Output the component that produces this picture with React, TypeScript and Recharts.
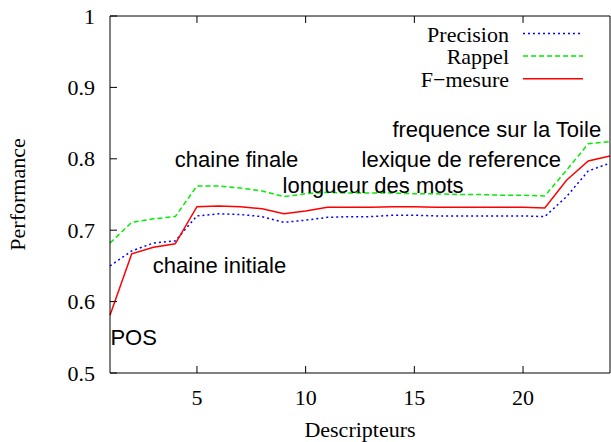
import { LineChart, Line, XAxis, YAxis, Legend, ReferenceDot } from 'recharts';

const descripteurs = [1, 2, 3, 4, 5, 6, 7, 8, 9, 10, 11, 12, 13, 14, 15, 16, 17, 18, 19, 20, 21, 22, 23, 24];
const precision = [0.650, 0.671, 0.682, 0.685, 0.720, 0.723, 0.722, 0.719, 0.711, 0.714, 0.718, 0.719, 0.719, 0.721, 0.721, 0.720, 0.720, 0.720, 0.720, 0.720, 0.719, 0.747, 0.783, 0.794];
const rappel = [0.682, 0.711, 0.716, 0.719, 0.762, 0.762, 0.759, 0.755, 0.747, 0.751, 0.753, 0.752, 0.752, 0.752, 0.751, 0.751, 0.750, 0.750, 0.749, 0.749, 0.748, 0.784, 0.821, 0.824];
const fmesure = [0.581, 0.667, 0.676, 0.681, 0.733, 0.734, 0.733, 0.730, 0.723, 0.727, 0.732, 0.732, 0.732, 0.733, 0.733, 0.732, 0.732, 0.732, 0.732, 0.732, 0.731, 0.770, 0.797, 0.804];

const xTicks = [5, 10, 15, 20];
const yTicks = [0.5, 0.6, 0.7, 0.8, 0.9, 1];

// annotations, anchored at their baseline-left in data coordinates
const noteLabels = ['POS', 'chaine initiale', 'chaine finale', 'longueur des mots', 'lexique de reference', 'frequence sur la Toile'];
const noteX = [1.02, 2.97, 3.98, 8.94, 12.57, 13.99];
const noteY = [0.539, 0.640, 0.7885, 0.752, 0.789, 0.831];

const SERIF = '"Liberation Serif", "Times New Roman", serif';
const SANS = '"Liberation Sans", Arial, sans-serif';
const FS = 22;
const TICK = 7;

const data = descripteurs.map((d, i) => ({
  d,
  precision: precision[i],
  rappel: rappel[i],
  fmesure: fmesure[i],
}));

const series = [
  { key: 'precision', name: 'Precision', color: '#0000ff', dash: '2 3' },
  { key: 'rappel', name: 'Rappel', color: '#00ee00', dash: '5 3' },
  { key: 'fmesure', name: 'F\u2212mesure', color: '#ff0000', dash: undefined },
];

function LeftTick({ x, y, payload }: any) {
  const ax = x + 15;
  return (
    <g>
      <line x1={ax} x2={ax + TICK} y1={y} y2={y} stroke="#000" />
      <text x={x} y={y} textAnchor="end" dominantBaseline="central" fontFamily={SERIF} fontSize={FS} fill="#000">
        {payload.value}
      </text>
    </g>
  );
}

function RightTick({ x, y }: any) {
  return <line x1={x} x2={x - TICK} y1={y} y2={y} stroke="#000" />;
}

function BottomTick({ x, y, payload }: any) {
  const ay = y - 24;
  return (
    <g>
      <line x1={x} x2={x} y1={ay} y2={ay - TICK} stroke="#000" />
      <text x={x} y={y} textAnchor="middle" dominantBaseline="central" fontFamily={SERIF} fontSize={FS} fill="#000">
        {payload.value}
      </text>
    </g>
  );
}

function TopTick({ x, y }: any) {
  return <line x1={x} x2={x} y1={y} y2={y + TICK} stroke="#000" />;
}

function LegendBox() {
  return (
    <svg width={611} height={100} style={{ display: 'block' }}>
      {series.map((s, i) => {
        const base = 41.5 + i * 22.6;
        return (
          <g key={s.key}>
            <text x={509} y={base} textAnchor="end" fontFamily={SERIF} fontSize={FS} fill="#000">
              {s.name}
            </text>
            <line x1={523} x2={583} y1={base - 8} y2={base - 8} stroke={s.color} strokeWidth={1.5} strokeDasharray={s.dash} />
          </g>
        );
      })}
    </svg>
  );
}

export default function App() {
  return (
    <div style={{ position: 'absolute', left: 0, top: 0, width: 611, height: 442, background: '#fff' }}>
      <LineChart width={611} height={442} data={data} margin={{ top: 15, right: 0, bottom: 0, left: 0 }}>
        <XAxis
          xAxisId="b"
          dataKey="d"
          type="number"
          domain={[1, 24]}
          ticks={xTicks}
          height={69}
          tickSize={0}
          tickMargin={24}
          tick={<BottomTick />}
          axisLine={{ stroke: '#000' }}
          label={({ viewBox }: any) => (
            <text x={viewBox.x + viewBox.width / 2} y={viewBox.y + 64} textAnchor="middle" fontFamily={SERIF} fontSize={FS} fill="#000">
              Descripteurs
            </text>
          )}
        />
        <XAxis
          xAxisId="t"
          orientation="top"
          dataKey="d"
          type="number"
          domain={[1, 24]}
          ticks={xTicks}
          height={1}
          tickSize={0}
          tickMargin={0}
          tick={<TopTick />}
          axisLine={{ stroke: '#000' }}
        />
        <YAxis
          yAxisId="l"
          type="number"
          domain={[0.5, 1]}
          ticks={yTicks}
          width={110}
          tickSize={0}
          tickMargin={15}
          tick={<LeftTick />}
          axisLine={{ stroke: '#000' }}
          label={({ viewBox }: any) => {
            const cy = viewBox.y + viewBox.height / 2;
            return (
              <text x={17} y={cy} transform={`rotate(-90 17 ${cy})`} textAnchor="middle" dominantBaseline="central" fontFamily={SERIF} fontSize={FS} fill="#000">
                Performance
              </text>
            );
          }}
        />
        <YAxis
          yAxisId="r"
          orientation="right"
          type="number"
          domain={[0.5, 1]}
          ticks={yTicks}
          width={1}
          tickSize={0}
          tickMargin={0}
          tick={<RightTick />}
          axisLine={{ stroke: '#000' }}
        />
        {series.map(s => (
          <Line
            key={s.key}
            xAxisId="b"
            yAxisId="l"
            type="linear"
            dataKey={s.key}
            name={s.name}
            stroke={s.color}
            strokeWidth={1.5}
            strokeDasharray={s.dash}
            dot={false}
            activeDot={false}
            isAnimationActive={false}
          />
        ))}
        {noteLabels.map((t, i) => (
          <ReferenceDot
            key={t}
            xAxisId="b"
            yAxisId="l"
            x={noteX[i]}
            y={noteY[i]}
            r={0}
            ifOverflow="visible"
            shape={(p: any) => (
              <text x={p.cx} y={p.cy} fontFamily={SANS} fontSize={FS} fill="#000">
                {t}
              </text>
            )}
          />
        ))}
        <Legend
          layout="horizontal"
          verticalAlign="middle"
          content={<LegendBox />}
          wrapperStyle={{ position: 'absolute', top: 0, left: 0, width: 611, height: 100 }}
        />
      </LineChart>
    </div>
  );
}
